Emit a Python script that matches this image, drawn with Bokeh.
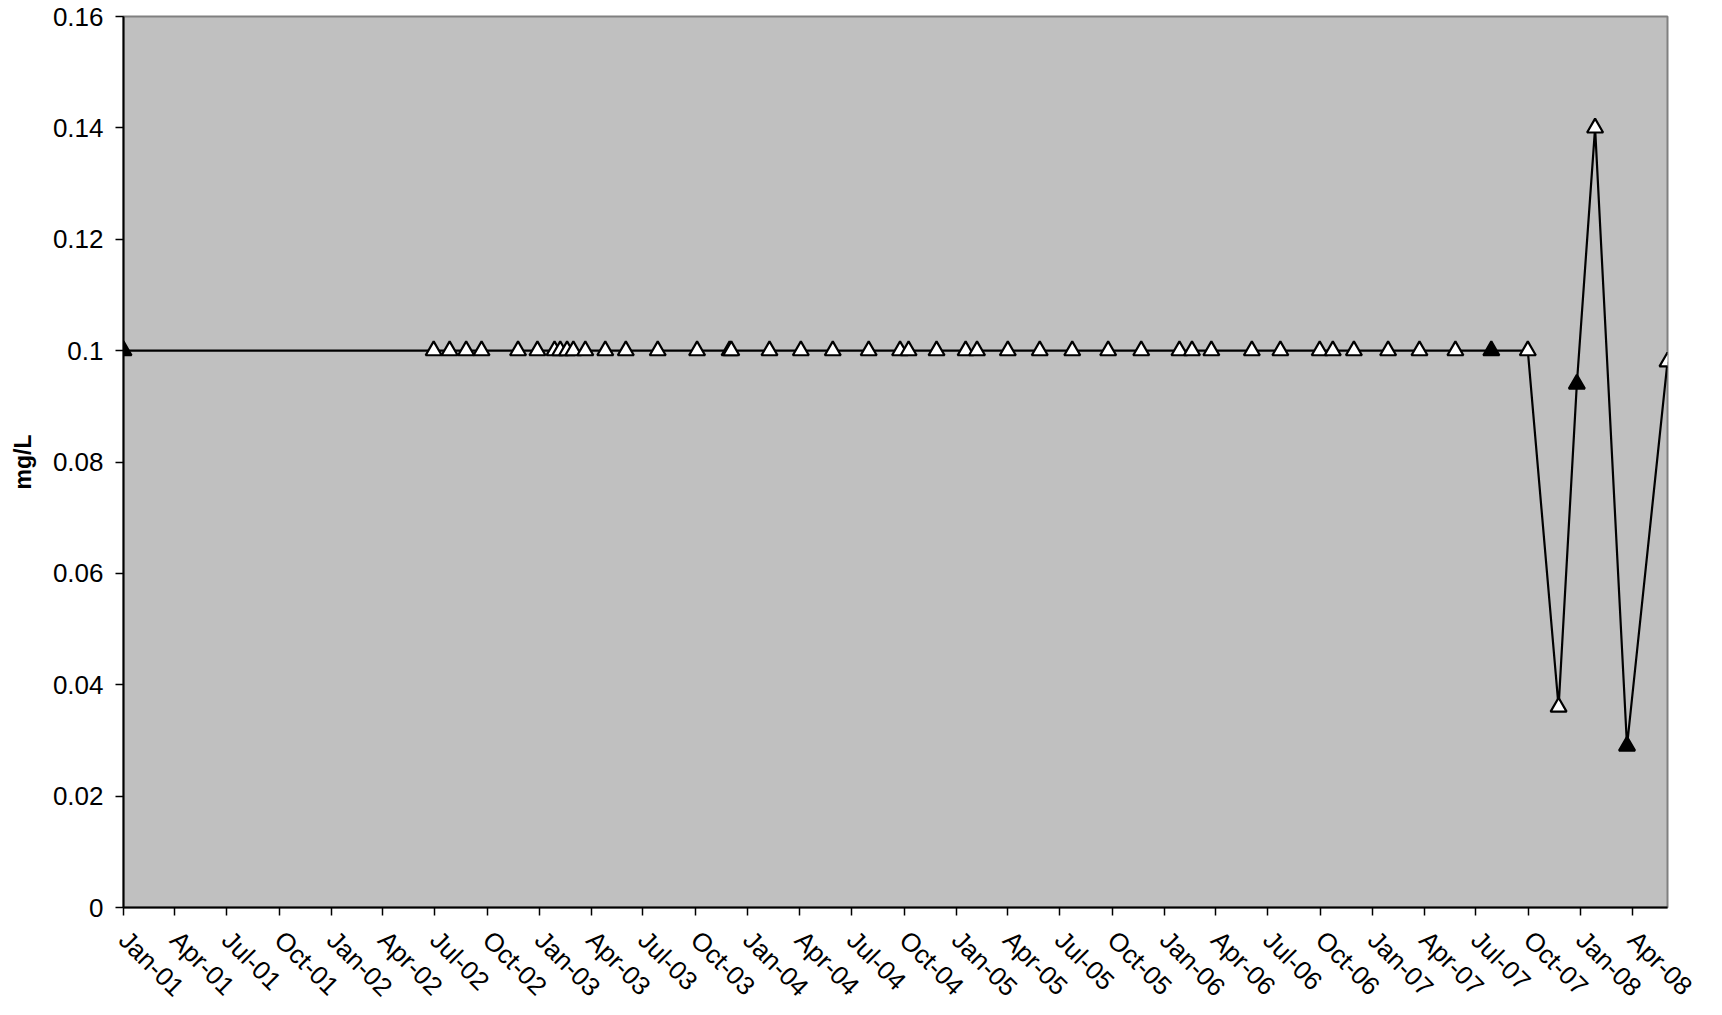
from math import pi
import pandas as pd
from bokeh.plotting import figure
from bokeh.models import (ColumnDataSource, Range1d, FixedTicker,
                          DatetimeTickFormatter, CustomJSTickFormatter)
from bokeh.embed import file_html
from bokeh.resources import INLINE

# ---- data ----
sample_dates = [
    "2001-01-01", "2002-06-29", "2002-07-27", "2002-08-25", "2002-09-21",
    "2002-11-24", "2002-12-28", "2003-01-27", "2003-02-06", "2003-02-18",
    "2003-03-01", "2003-03-22", "2003-04-26", "2003-06-01", "2003-07-27",
    "2003-10-04", "2003-11-30", "2003-12-03", "2004-02-08", "2004-04-03",
    "2004-05-29", "2004-07-31", "2004-09-24", "2004-10-09", "2004-11-27",
    "2005-01-17", "2005-02-06", "2005-04-01", "2005-05-27", "2005-07-23",
    "2005-09-24", "2005-11-21", "2006-01-27", "2006-02-18", "2006-03-24",
    "2006-06-03", "2006-07-23", "2006-09-30", "2006-10-23", "2006-11-29",
    "2007-01-28", "2007-03-24", "2007-05-26", "2007-07-28", "2007-09-30",
    "2007-11-23", "2007-12-25", "2008-01-26", "2008-03-22", "2008-06-01",
]
concentration = [
    0.1, 0.1, 0.1, 0.1, 0.1,
    0.1, 0.1, 0.1, 0.1, 0.1,
    0.1, 0.1, 0.1, 0.1, 0.1,
    0.1, 0.1, 0.1, 0.1, 0.1,
    0.1, 0.1, 0.1, 0.1, 0.1,
    0.1, 0.1, 0.1, 0.1, 0.1,
    0.1, 0.1, 0.1, 0.1, 0.1,
    0.1, 0.1, 0.1, 0.1, 0.1,
    0.1, 0.1, 0.1, 0.1, 0.1,
    0.036, 0.094, 0.14, 0.029, 0.098,
]
# True = solid marker, False = open marker
solid = [
    True, False, False, False, False,
    False, False, False, False, False,
    False, False, False, False, False,
    False, False, False, False, False,
    False, False, False, False, False,
    False, False, False, False, False,
    False, False, False, False, False,
    False, False, False, False, False,
    False, False, False, True, False,
    False, True, False, True, False,
]
y_ticks = [0, 0.02, 0.04, 0.06, 0.08, 0.1, 0.12, 0.14, 0.16]
x_tick_first, x_tick_last = "2001-01-01", "2008-04-01"
y_axis_title = "mg/L"

dates = pd.to_datetime(sample_dates)
df = pd.DataFrame({"date": dates, "value": concentration, "solid": solid})
src_all = ColumnDataSource(df)
src_solid = ColumnDataSource(df[df["solid"]])
src_open = ColumnDataSource(df[~df["solid"]])

tick_dates = pd.date_range(x_tick_first, x_tick_last, freq="QS")
tick_ms = [t.value / 1e6 for t in tick_dates]

FONT = "Liberation Sans"

p = figure(width=1712, height=1015, x_axis_type="datetime",
           output_backend="svg", toolbar_location=None,
           x_range=Range1d(dates[0], dates[-1]),
           y_range=Range1d(0, 0.16),
           min_border_left=123, min_border_right=45,
           min_border_top=16, min_border_bottom=108)

p.background_fill_color = "#C0C0C0"
p.border_fill_color = "white"
p.outline_line_color = "#808080"
p.outline_line_width = 2
p.xgrid.visible = False
p.ygrid.visible = False

p.line("date", "value", source=src_all, line_color="black", line_width=2.2)
p.scatter("date", "value", source=src_open, marker="triangle", size=16,
          fill_color="white", line_color="black", line_width=2.2)
p.scatter("date", "value", source=src_solid, marker="triangle", size=16,
          fill_color="black", line_color="black", line_width=2.2)

# y axis
ya = p.yaxis[0]
ya.ticker = FixedTicker(ticks=y_ticks)
ya.formatter = CustomJSTickFormatter(code="return tick.toString();")
ya.minor_tick_line_color = None
ya.major_tick_in = 0
ya.major_tick_out = 8
ya.major_tick_line_color = "black"
ya.major_tick_line_width = 1.5
ya.axis_line_color = "black"
ya.axis_line_width = 2
ya.major_label_text_font = FONT
ya.major_label_text_font_size = "26px"
ya.major_label_text_color = "black"
ya.major_label_standoff = 12
ya.axis_label = y_axis_title
ya.axis_label_text_font = FONT
ya.axis_label_text_font_size = "23px"
ya.axis_label_text_font_style = "bold"
ya.axis_label_text_color = "black"
ya.axis_label_standoff = 14

# x axis
xa = p.xaxis[0]
xa.ticker = FixedTicker(ticks=tick_ms)
fmt = "%b-%y"
xa.formatter = DatetimeTickFormatter(years=fmt, months=fmt, days=fmt,
                                     hours=fmt, minutes=fmt, seconds=fmt)
xa.minor_tick_line_color = None
xa.major_tick_in = 0
xa.major_tick_out = 8
xa.major_tick_line_color = "black"
xa.major_tick_line_width = 1.5
xa.axis_line_color = "black"
xa.axis_line_width = 2
xa.major_label_text_font = FONT
xa.major_label_text_font_size = "26px"
xa.major_label_text_color = "black"
xa.major_label_orientation = -pi / 4
xa.major_label_standoff = 20

open("out.html", "w").write(file_html(p, INLINE))
